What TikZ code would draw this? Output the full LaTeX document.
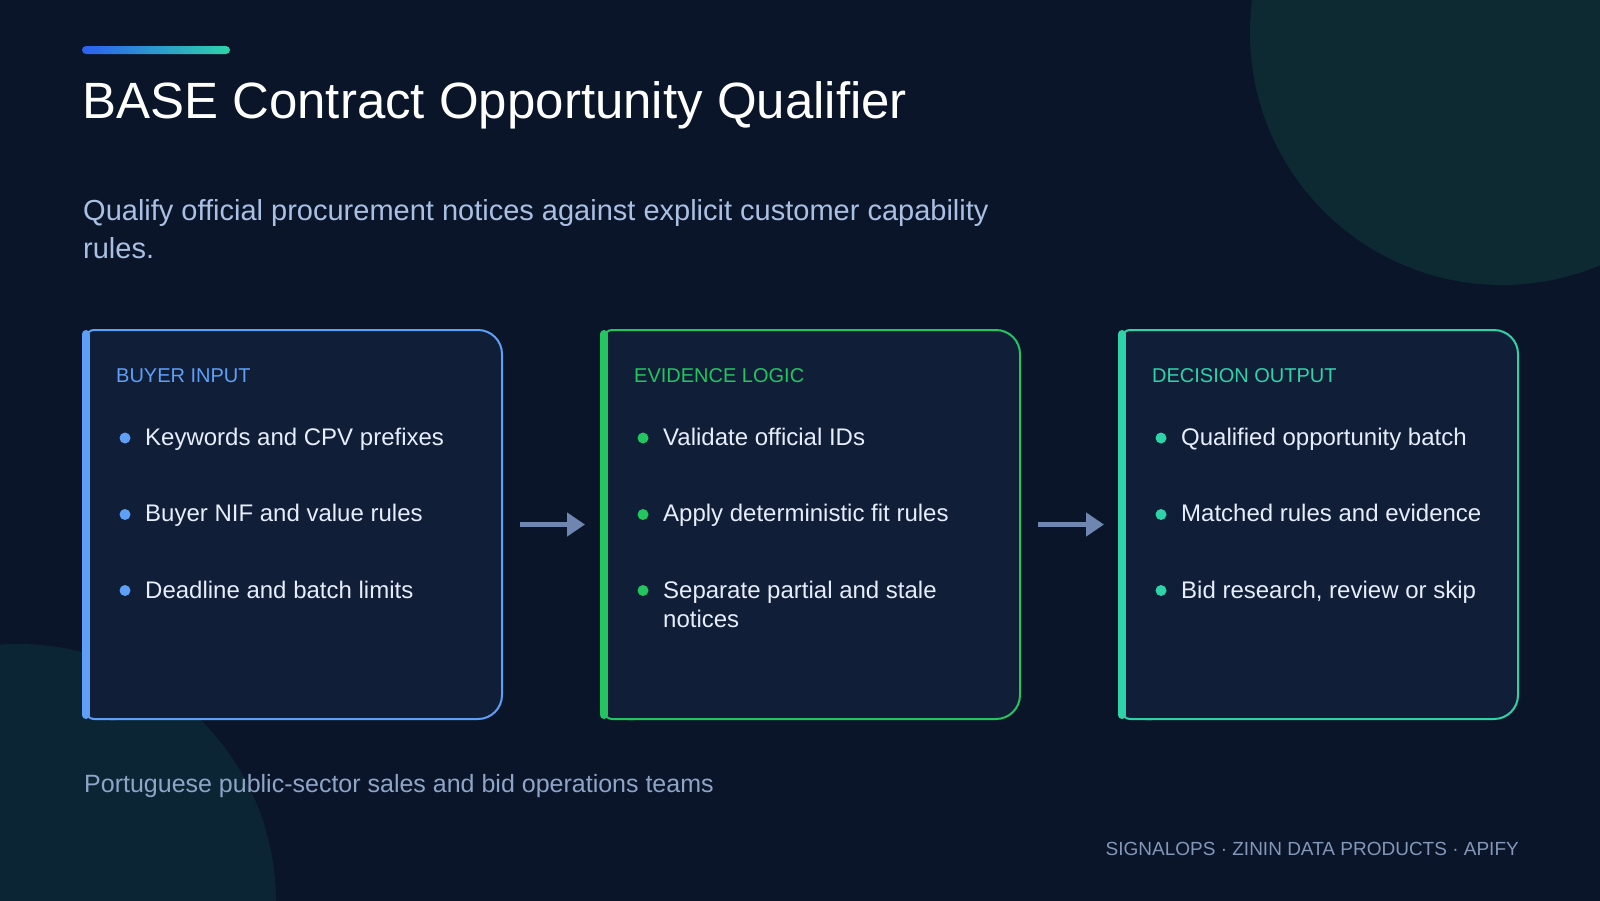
\documentclass[tikz,border=0pt]{standalone}
\usepackage{fontspec}
\setmainfont{Liberation Sans}
\usetikzlibrary{arrows.meta,calc}
\definecolor{bgA}{HTML}{0A1529}
\definecolor{circA}{HTML}{0D2A33}
\definecolor{circB}{HTML}{0C2534}
\definecolor{cardfill}{HTML}{111E38}
\definecolor{cblue}{HTML}{5EA0F8}
\definecolor{cgreen}{HTML}{22C55E}
\definecolor{cteal}{HTML}{2ED3A8}
\definecolor{bullettext}{HTML}{E6EDFB}
\definecolor{subtext}{HTML}{A9BFE3}
\definecolor{footL}{HTML}{8EA5C8}
\definecolor{footR}{HTML}{8397B8}
\definecolor{arrowc}{HTML}{6F86B0}
\definecolor{barL}{HTML}{2D5FF0}
\definecolor{barR}{HTML}{2DD4AA}
\tikzset{
  txt/.style={inner sep=0pt, anchor=base west},
  titletxt/.style={txt, text=white, font=\fontsize{51}{56}\selectfont},
  subtxt/.style={txt, text=subtext, align=left, font=\fontsize{29}{38}\selectfont},
  headtxt/.style={txt, font=\fontsize{20}{24}\selectfont},
  itemtxt/.style={txt, text=bullettext, align=left, font=\fontsize{24}{29}\selectfont},
  dot/.style={circle, inner sep=0pt, minimum size=11pt},
  card/.style={draw=#1, line width=2pt, fill=cardfill, rounded corners=24pt, inner sep=0pt, outer sep=0pt},
  flow/.style={draw=arrowc, line width=5pt, -{Triangle[length=18pt,width=23pt]}},
}
\newcommand{\mkcard}[6]{% name, L, R, colour, header, headername
  \node[card=#4, minimum width={(#3-#2)*1pt}, minimum height=389pt] (#1) at ({(#2+#3)/2},524.5) {};
  \fill[cardfill] ([yshift=-0.5pt]#1.north west) rectangle ([xshift=30pt,yshift=0.5pt]#1.south west);
  \draw[#4, line width=2pt, rounded corners=8pt] ([xshift=30pt]#1.north west) -- (#1.north west) -- (#1.south west) -- ([xshift=30pt]#1.south west);
  \draw[#4, line width=8pt, line cap=round] ([yshift=-4pt]#1.north west) -- ([yshift=4pt]#1.south west);
  \node[headtxt, text=#4] (#6) at (#2+30,382) {#5};
}
\begin{document}
\begin{tikzpicture}[x=1pt,y=-1pt]
\useasboundingbox (0,0) rectangle (1600,900);
\fill[bgA] (-6,-6) rectangle (1606,906);
\begin{scope}
  \clip (-6,-6) rectangle (1606,906);
  \fill[circA] (1502,33) circle[radius=252];
  \fill[circB] (18,902) circle[radius=258];
\end{scope}
% accent bar
\shade[left color=barL, right color=barR, rounded corners=4pt] (82,46) rectangle (230,54);
\node[titletxt] (title) at (82,118) {BASE Contract Opportunity Qualifier};
\node[subtxt] (sub) at (83,258) {Qualify official procurement notices against explicit customer capability\\rules.};
% cards
\mkcard{c1}{86}{502}{cblue}{BUYER INPUT}{h1}
\mkcard{c2}{604}{1020}{cgreen}{EVIDENCE LOGIC}{h2}
\mkcard{c3}{1122}{1518}{cteal}{DECISION OUTPUT}{h3}
% card 1 items
\node[dot, fill=cblue] (d11) at (125,438) {};
\node[dot, fill=cblue] (d12) at (125,514.5) {};
\node[dot, fill=cblue] (d13) at (125,590.5) {};
\node[itemtxt] (t11) at (145,445) {Keywords and CPV prefixes};
\node[itemtxt] (t12) at (145,521.5) {Buyer NIF and value rules};
\node[itemtxt] (t13) at (145,598) {Deadline and batch limits};
% card 2 items
\node[dot, fill=cgreen] (d21) at (643,438) {};
\node[dot, fill=cgreen] (d22) at (643,514.5) {};
\node[dot, fill=cgreen] (d23) at (643,590.5) {};
\node[itemtxt] (t21) at (663,445) {Validate official IDs};
\node[itemtxt] (t22) at (663,521.5) {Apply deterministic fit rules};
\node[itemtxt] (t23) at (663,627) {Separate partial and stale\\notices};
% card 3 items
\node[dot, fill=cteal] (d31) at (1161,438) {};
\node[dot, fill=cteal] (d32) at (1161,514.5) {};
\node[dot, fill=cteal] (d33) at (1161,590.5) {};
\node[itemtxt] (t31) at (1181,445) {Qualified opportunity batch};
\node[itemtxt] (t32) at (1181,521.5) {Matched rules and evidence};
\node[itemtxt] (t33) at (1181,598) {Bid research, review or skip};
% arrows
\draw[flow] ([xshift=18pt]c1.east) -- ([xshift=-19pt]c2.west);
\draw[flow] ([xshift=18pt]c2.east) -- ([xshift=-18pt]c3.west);
% footers
\node[txt, text=footL, font=\fontsize{25}{30}\selectfont] (audience) at (84,792) {Portuguese public-sector sales and bid operations teams};
\node[inner sep=0pt, anchor=base east, text=footR, font=\fontsize{19}{23}\selectfont] (brand) at (1519,855) {SIGNALOPS · ZININ DATA PRODUCTS · APIFY};
\end{tikzpicture}
\end{document}
